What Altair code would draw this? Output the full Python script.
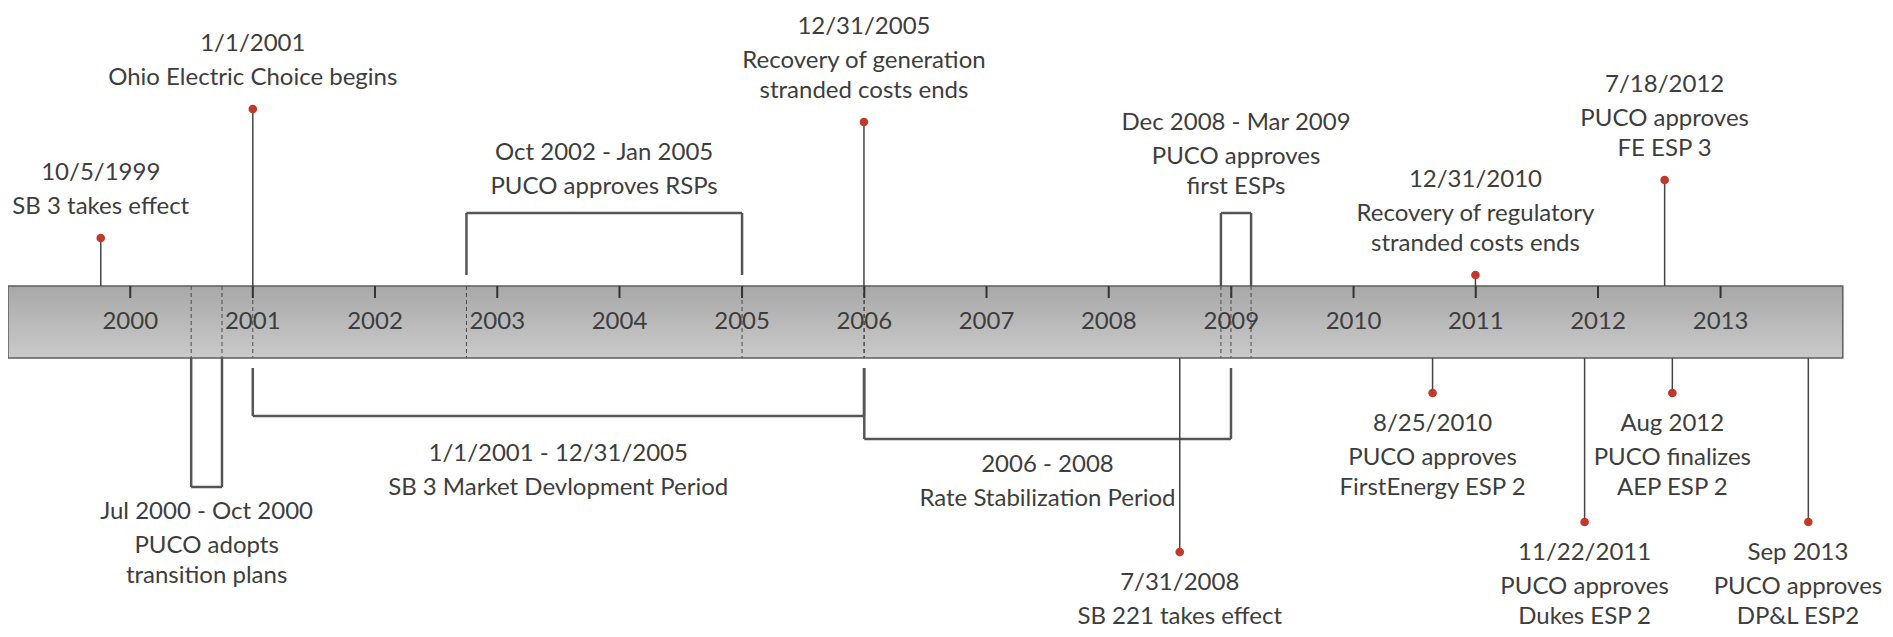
import altair as alt
import pandas as pd

# ---------------- data ----------------
years = list(range(2000, 2014))

event_dates = ["1999-10-05", "2001-01-01", "2005-12-31", "2010-12-31", "2012-07-18",
               "2010-08-25", "2011-11-22", "2012-08-10", "2013-09-20", "2008-07-31"]
# where each event's caption is centred (same as the event, except the one at the right edge)
event_label_dates = ["1999-10-05", "2001-01-01", "2005-12-31", "2010-12-31", "2012-07-18",
                     "2010-08-25", "2011-11-22", "2012-08-10", "2013-08-20", "2008-07-31"]
event_labels = [
    ["10/5/1999", "SB 3 takes effect"],
    ["1/1/2001", "Ohio Electric Choice begins"],
    ["12/31/2005", "Recovery of generation", "stranded costs ends"],
    ["12/31/2010", "Recovery of regulatory", "stranded costs ends"],
    ["7/18/2012", "PUCO approves", "FE ESP 3"],
    ["8/25/2010", "PUCO approves", "FirstEnergy ESP 2"],
    ["11/22/2011", "PUCO approves", "Dukes ESP 2"],
    ["Aug 2012", "PUCO finalizes", "AEP ESP 2"],
    ["Sep 2013", "PUCO approves", "DP&L ESP2"],
    ["7/31/2008", "SB 221 takes effect"],
]
# stem heights (positive = above the timeline, negative = below)
event_levels = [84, 213, 200, 47, 142, -71, -200, -71, -200, -230]

range_starts = ["2002-10-01", "2008-12-01", "2000-07-01", "2001-01-01", "2006-01-01"]
range_ends = ["2005-01-01", "2009-03-01", "2000-10-01", "2005-12-31", "2008-12-31"]
range_labels = [
    ["Oct 2002 - Jan 2005", "PUCO approves RSPs"],
    ["Dec 2008 - Mar 2009", "PUCO approves", "first ESPs"],
    ["Jul 2000 - Oct 2000", "PUCO adopts", "transition plans"],
    ["1/1/2001 - 12/31/2005", "SB 3 Market Devlopment Period"],
    ["2006 - 2008", "Rate Stabilization Period"],
]
range_levels = [109, 109, -165, -94, -117]       # bracket level
range_inner = [47, 36, -36, -46, -46]            # where the bracket legs stop near the timeline
range_label_gap = [26, 26, 25, 38, 26]           # distance from bracket to nearest text line

timeline_start, timeline_end = "1999-01-01", "2014-01-01"

# ---------------- layout constants ----------------
W, H = 1877, 621
BAR = 36
FONT = "Lato"
FS = 24
TXT = "#3d3d3d"
LINE_OFF = [0, 34, 64]   # cumulative line offsets inside a label block
EVENT_GAP = 31

xs = alt.Scale(domain=["1999-01-01", "2014-05-07"], nice=False)
ys = alt.Scale(domain=[-307, 314], nice=False, zero=False)


def X(f):
    return alt.X(f, type="temporal", scale=xs, axis=None)


def Y(f):
    return alt.Y(f, type="quantitative", scale=ys, axis=None)


def explode(xvals, labels, anchors, ups):
    rows = []
    for xv, lines, a, up in zip(xvals, labels, anchors, ups):
        n = len(lines)
        for i, t in enumerate(lines):
            if up:
                lvl = a + (LINE_OFF[n - 1] - LINE_OFF[i])
            else:
                lvl = a - LINE_OFF[i]
            rows.append({"d": xv, "txt": t, "lvl": lvl})
    return pd.DataFrame(rows)


bar_df = pd.DataFrame({"s": [timeline_start], "e": [timeline_end], "t": [BAR], "b": [-BAR]})
year_df = pd.DataFrame({"d": [f"{y}-01-01" for y in years], "label": [str(y) for y in years],
                        "t": BAR, "b": BAR - 12, "m": 0})

ev = pd.DataFrame({"d": event_dates, "lvl": event_levels})
ev["edge"] = ev["lvl"].apply(lambda v: BAR if v > 0 else -BAR)
ev_anchor = [v + EVENT_GAP if v > 0 else v - EVENT_GAP for v in event_levels]
ev_text = explode(event_label_dates, event_labels, ev_anchor, [v > 0 for v in event_levels])

rg = pd.DataFrame({"s": range_starts, "e": range_ends, "lvl": range_levels, "inner": range_inner})
mids = (pd.to_datetime(rg["s"]) + (pd.to_datetime(rg["e"]) - pd.to_datetime(rg["s"])) / 2).dt.strftime("%Y-%m-%d")
rg_anchor = [v + g if v > 0 else v - g for v, g in zip(range_levels, range_label_gap)]
rg_text = explode(list(mids), range_labels, rg_anchor, [v > 0 for v in range_levels])

ends = pd.DataFrame({"d": list(rg["s"]) + list(rg["e"]), "t": BAR, "b": -BAR})
legs = pd.DataFrame({"d": list(rg["s"]) + list(rg["e"]),
                     "a": list(rg["inner"]) * 2, "z": list(rg["lvl"]) * 2})
texts = pd.concat([ev_text, rg_text], ignore_index=True)

grad = alt.Gradient(gradient="linear", x1=0, x2=0, y1=0, y2=1,
                    stops=[alt.GradientStop(color="#a8a8a8", offset=0),
                           alt.GradientStop(color="#cacaca", offset=1)])

bar = alt.Chart(bar_df).mark_rect(fill=grad, stroke="#5e5e5e", strokeWidth=1.5).encode(
    x=X("s"), x2="e", y=Y("t"), y2="b")

dashes = alt.Chart(ends).mark_rule(color="#4a4a4a", strokeWidth=1, strokeDash=[4, 3]).encode(
    x=X("d"), y=Y("t"), y2="b")

ticks = alt.Chart(year_df).mark_rule(color="#333333", strokeWidth=2).encode(
    x=X("d"), y=Y("t"), y2="b")

ylabels = alt.Chart(year_df).mark_text(font=FONT, fontSize=FS, color=TXT, baseline="middle").encode(
    x=X("d"), y=Y("m"), text="label")

leg_rules = alt.Chart(legs).mark_rule(color="#555555", strokeWidth=2.5).encode(
    x=X("d"), y=Y("a"), y2="z")
hbar = alt.Chart(rg).mark_rule(color="#555555", strokeWidth=2.5).encode(
    x=X("s"), x2="e", y=Y("lvl"))

stems = alt.Chart(ev).mark_rule(color="#454545", strokeWidth=1.5).encode(
    x=X("d"), y=Y("lvl"), y2="edge")
dots = alt.Chart(ev).mark_point(filled=True, shape="circle", size=75, color="#c0392b", opacity=1).encode(
    x=X("d"), y=Y("lvl"))

labels = alt.Chart(texts).mark_text(font=FONT, fontSize=FS, color=TXT, baseline="middle").encode(
    x=X("d"), y=Y("lvl"), text="txt")

chart = alt.layer(bar, dashes, ticks, ylabels, leg_rules, hbar, stems, dots, labels).properties(
    width=W, height=H, padding=0,
    autosize=alt.AutoSizeParams(type="none"),
).configure(background="white").configure_view(stroke=None)

chart.save("out.html", embed_options={"renderer": "svg", "actions": False})
